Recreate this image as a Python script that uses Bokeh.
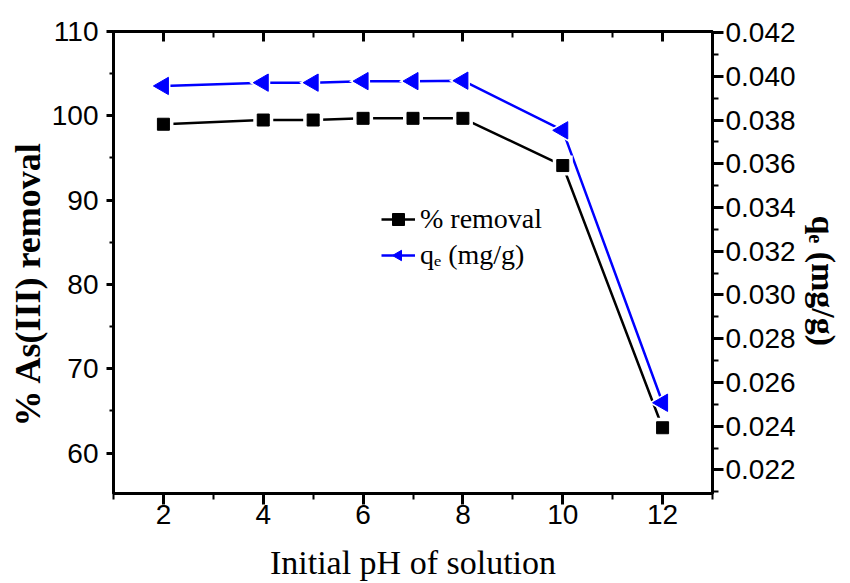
import numpy as np
from bokeh.plotting import figure
from bokeh.models import (Range1d, LinearAxis, FixedTicker, NumeralTickFormatter,
                          Title, Legend, LegendItem, ColumnDataSource)
from bokeh.embed import file_html
from bokeh.resources import INLINE

# ---- data ----
ph = [2, 4, 5, 6, 7, 8, 10, 12]
removal = [99.0, 99.5, 99.5, 99.7, 99.7, 99.7, 94.1, 63.0]
qe = [0.03956, 0.03971, 0.03971, 0.03978, 0.03978, 0.03980, 0.03753, 0.02507]

x_ticks = [2, 4, 6, 8, 10, 12]
x_minor = [1, 3, 5, 7, 9, 11, 13]
left_ticks = [60, 70, 80, 90, 100, 110]
left_minor = [55, 65, 75, 85, 95, 105]
right_ticks = [0.022, 0.024, 0.026, 0.028, 0.030, 0.032, 0.034, 0.036, 0.038, 0.040, 0.042]
right_minor = [0.021, 0.023, 0.025, 0.027, 0.029, 0.031, 0.033, 0.035, 0.037, 0.039, 0.041]

x_title = "Initial pH of solution"
left_title = "% As(III) removal"
right_title = "qₑ (mg/g)"
label_removal = "% removal"
label_qe = "qₑ (mg/g)"

TICK_FONT = "Liberation Sans"
SERIF = "Liberation Serif"

src_r = ColumnDataSource(dict(x=ph, y=removal))
src_q = ColumnDataSource(dict(x=ph, y=qe))

p = figure(width=850, height=583, output_backend="svg", toolbar_location=None,
           x_range=Range1d(1, 13), y_range=Range1d(55.2, 110),
           min_border_left=113, min_border_right=137, min_border_top=31,
           min_border_bottom=86)
p.extra_y_ranges = {"qe": Range1d(0.02092, 0.04205)}
p.grid.visible = False
p.outline_line_color = "black"
p.outline_line_width = 3
p.background_fill_color = "white"
p.border_fill_color = "white"

def style_axis(ax, tout, mout, tin=0, min_in=0, standoff=4):
    ax.axis_line_width = 3
    ax.axis_line_color = "black"
    ax.major_tick_line_width = 3
    ax.minor_tick_line_width = 2
    ax.major_tick_out = tout
    ax.minor_tick_out = mout
    ax.major_tick_in = tin
    ax.minor_tick_in = min_in
    ax.major_label_text_font = TICK_FONT
    ax.major_label_text_font_size = "28px"
    ax.major_label_text_color = "black"
    ax.major_label_standoff = standoff

# bottom axis with its title
xa = p.xaxis[0]
xa.ticker = FixedTicker(ticks=x_ticks, minor_ticks=x_minor)
style_axis(xa, 11, 6, standoff=0)
xa.axis_label = x_title
xa.axis_label_text_font = SERIF
xa.axis_label_text_font_size = "34px"
xa.axis_label_text_font_style = "normal"
xa.axis_label_text_color = "black"
xa.axis_label_standoff = 17

# left axis
ya = p.yaxis[0]
ya.ticker = FixedTicker(ticks=left_ticks, minor_ticks=left_minor)
style_axis(ya, 7, 4, standoff=8)

# right axis (ticks + numbers)
ra = LinearAxis(y_range_name="qe",
                ticker=FixedTicker(ticks=right_ticks, minor_ticks=right_minor),
                formatter=NumeralTickFormatter(format="0.000"))
style_axis(ra, 11, 6, standoff=2)
p.add_layout(ra, "right")

# top axis (ticks inside, no labels)
ta = LinearAxis(ticker=FixedTicker(ticks=x_ticks, minor_ticks=x_minor))
style_axis(ta, 0, 0, tin=10, min_in=6, standoff=0)
ta.major_label_overrides = {t: "" for t in x_ticks}
ta.major_label_text_font_size = "1px"
p.add_layout(ta, "above")

# side titles
p.add_layout(Title(text=left_title, align="left", offset=67, standoff=2,
                   text_font=SERIF, text_font_size="36px", text_font_style="bold",
                   text_color="black"), "left")
p.add_layout(Title(text=right_title, align="left", offset=184, standoff=13,
                   text_font=SERIF, text_font_size="34px", text_font_style="bold",
                   text_color="black"), "right")

# series: lines, white halos (gaps), markers
bl = p.line(ph, removal, line_color="black", line_width=2.5)
ql = p.line(ph, qe, line_color="#0000FF", line_width=2.5, y_range_name="qe")
bh = p.scatter("x", "y", source=src_r, marker="square", size=20,
               fill_color="white", line_color=None)
bm = p.scatter("x", "y", source=src_r, marker="square", size=12,
               fill_color="black", line_color="black")
qh = p.ngon("x", "y", source=src_q, radius=14, radius_units="screen", n=3,
            angle=np.pi / 2, fill_color="white", line_color=None, y_range_name="qe")
qm = p.ngon("x", "y", source=src_q, radius=10, radius_units="screen", n=3,
            angle=np.pi / 2, fill_color="#0000FF", line_color="#0000FF",
            y_range_name="qe")

legend = Legend(items=[LegendItem(label=label_removal, renderers=[bl, bh, bm]),
                       LegendItem(label=label_qe, renderers=[ql, qh, qm])],
                location=(268, 222), border_line_color=None, background_fill_alpha=0,
                padding=0, margin=0, spacing=4, glyph_width=34, glyph_height=30,
                label_height=30, label_standoff=5, label_text_color="black",
                label_text_font=SERIF, label_text_font_size="28px")
p.add_layout(legend, "center")

open("out.html", "w").write(file_html(p, INLINE))
